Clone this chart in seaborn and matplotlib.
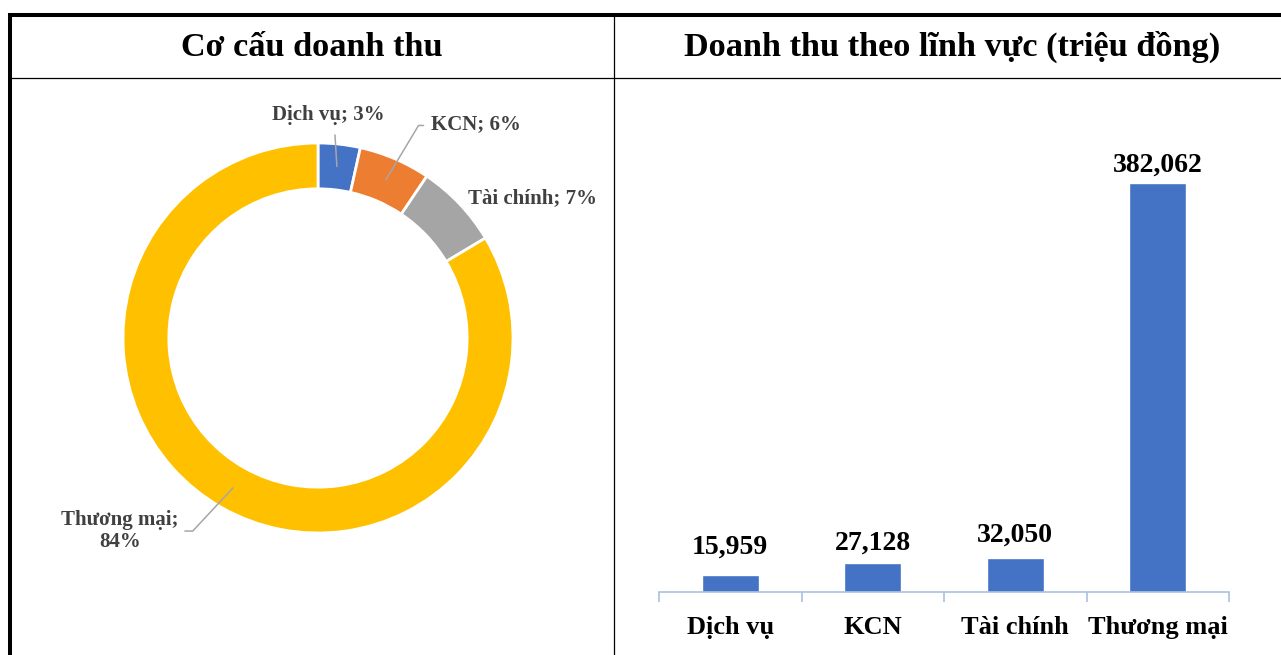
import numpy as np
import matplotlib.pyplot as plt
import seaborn as sns
from matplotlib.lines import Line2D

# Data
categories = ["Dịch vụ", "KCN", "Tài chính", "Thương mại"]
revenue = [15959, 27128, 32050, 382062]
colors = ["#4472C4", "#ED7D31", "#A5A5A5", "#FFC000"]
bar_color = "#4472C4"

sns.set_style("white")
plt.rcParams['font.family'] = ['Liberation Serif', 'DejaVu Serif']
plt.rcParams['font.weight'] = 'bold'
plt.rcParams['text.color'] = 'black'
plt.rcParams['xtick.color'] = 'black'

W, H = 1281, 655
fig = plt.figure(figsize=(W / 100, H / 100), dpi=100)


def box(x0, y0, x1, y1):
    # pixel box (top-left origin) -> figure fraction rect
    return [x0 / W, 1 - y1 / H, (x1 - x0) / W, (y1 - y0) / H]


# table frame
fig.add_artist(Line2D([8 / W, 1], [1 - 15 / H] * 2, color='black', lw=2.9,
                      solid_capstyle='butt'))
fig.add_artist(Line2D([10 / W] * 2, [0, 1 - 13 / H], color='black', lw=2.9,
                      solid_capstyle='butt'))
fig.add_artist(Line2D([10 / W, 1], [1 - 78 / H] * 2, color='black', lw=0.9))
fig.add_artist(Line2D([613.5 / W] * 2, [0, 1 - 15 / H], color='black', lw=0.9))

# headers
fig.text(312 / W, 1 - 47 / H, "Cơ cấu doanh thu", ha='center', va='center',
         fontsize=24.7, fontweight='bold')
fig.text(952 / W, 1 - 47 / H, "Doanh thu theo lĩnh vực (triệu đồng)", ha='center',
         va='center', fontsize=24.7, fontweight='bold')

# donut chart
ax1 = fig.add_axes(box(118, 138, 518, 538))
total = sum(revenue)
shares = [v / total for v in revenue]
wedges, _ = ax1.pie(revenue, colors=colors, startangle=90, counterclock=False,
                    radius=1, wedgeprops=dict(width=0.235, edgecolor='white', linewidth=2))
lim = 200 / 195
ax1.set_xlim(-lim, lim)
ax1.set_ylim(-lim, lim)
ax1.set_aspect('equal')
ax1.axis('off')

labels = [f"{c}; {round(s * 100)}%" for c, s in zip(categories, shares)]
labels[3] = f"{categories[3]};\n{round(shares[3] * 100)}%"

cum = np.cumsum([0] + shares[:-1])
mids = [(c + s / 2) * 2 * np.pi for c, s in zip(cum, shares)]
r_mid = 0.885
anchor = [(r_mid * np.sin(a), r_mid * np.cos(a)) for a in mids]

label_pos = [(0.055, 1.145), (0.81, 1.095), (1.10, 0.72), (-1.015, -0.99)]
arrow_style = [
    dict(arrowstyle='-', color='#A6A6A6', lw=1.1, shrinkA=5, shrinkB=0, relpos=(0.55, 0)),
    dict(arrowstyle='-', color='#A6A6A6', lw=1.1, shrinkA=3, shrinkB=0, relpos=(0, 0.45),
         connectionstyle="angle,angleA=180,angleB=59,rad=0"),
    None,
    dict(arrowstyle='-', color='#A6A6A6', lw=1.1, shrinkA=2, shrinkB=0, relpos=(1, 0.5),
         connectionstyle="angle,angleA=0,angleB=47,rad=0"),
]
for lab, xy, pos, ap in zip(labels, anchor, label_pos, arrow_style):
    ax1.annotate(lab, xy=xy, xytext=pos, ha='center', va='center', fontsize=15,
                 fontweight='bold', color='#404040', arrowprops=ap,
                 annotation_clip=False, linespacing=1.15)

# bar chart
ax2 = fig.add_axes(box(659, 110, 1229, 592))
sns.barplot(x=categories, y=revenue, color=bar_color, saturation=1, width=0.4, ax=ax2)
ax2.set_xlim(-0.5, len(categories) - 0.5)
ax2.set_ylim(0, 450000)
label_pad = [11, 5.5, 7, 4]
for patch, v, p in zip(ax2.patches, revenue, label_pad):
    ax2.annotate(f"{v:,}", xy=(patch.get_x() + patch.get_width() / 2, patch.get_height()),
                 xytext=(0, p), textcoords='offset points', ha='center', va='bottom',
                 fontsize=20, fontweight='bold', color='black')
ax2.set_yticks([])
ax2.set_xlabel("")
ax2.set_ylabel("")
for s in ['left', 'top', 'right']:
    ax2.spines[s].set_visible(False)
ax2.spines['bottom'].set_color('#A9C1E0')
ax2.spines['bottom'].set_linewidth(1.2)
ax2.set_xticks(np.arange(len(categories) + 1) - 0.5, minor=True)
ax2.tick_params(axis='x', which='minor', bottom=True, length=7, width=1.2,
                color='#A9C1E0', direction='out')
ax2.tick_params(axis='x', which='major', length=0, pad=17, labelsize=19)
for t in ax2.get_xticklabels():
    t.set_fontweight('bold')

fig.savefig("out.png", dpi=100)
